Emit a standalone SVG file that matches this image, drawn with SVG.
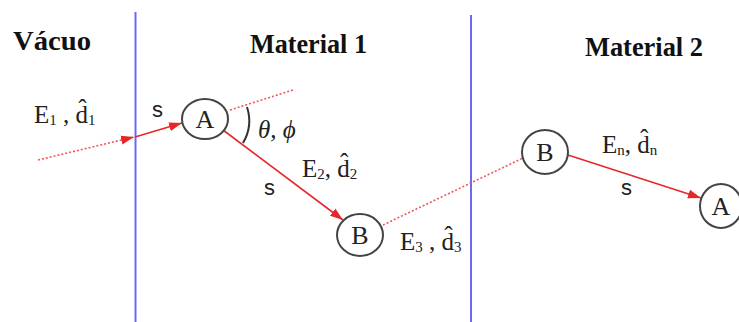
<svg xmlns="http://www.w3.org/2000/svg" width="739" height="322" viewBox="0 0 739 322">
<style>
.head{font-family:"Liberation Serif",serif;font-weight:bold;font-size:27px;fill:#111}
.lab{font-family:"Liberation Serif",serif;font-size:25px;fill:#222}
.sub{font-size:15px}
.s{font-family:"Liberation Sans",sans-serif;font-size:22px;fill:#222}
.node ellipse{fill:#fff;stroke:#444;stroke-width:2}
.node text{font-family:"Liberation Serif",serif;font-size:26px;fill:#222;text-anchor:middle}
.wall{stroke:#6a6aee;stroke-width:2}
.ray{stroke:#e8262a;stroke-width:1.6;fill:none}
.dot{stroke:#f0555a;stroke-width:1.6;stroke-dasharray:2 2;fill:none}
</style>
<defs>
<marker id="ah" markerUnits="userSpaceOnUse" markerWidth="14" markerHeight="10" refX="13" refY="5" orient="auto">
<path d="M0,0.5 L13,5 L0,9.5 Z" fill="#e8262a"/>
</marker>
</defs>
<rect width="739" height="322" fill="#fff"/>
<g id="walls">
<line class="wall" x1="135.5" y1="12" x2="135.5" y2="322"/>
<line class="wall" x1="471" y1="15" x2="471" y2="322"/>
</g>
<g id="headings">
<text class="head" x="13" y="50" textLength="78" lengthAdjust="spacingAndGlyphs">Vácuo</text>
<text class="head" x="250" y="53" textLength="117" lengthAdjust="spacingAndGlyphs">Material 1</text>
<text class="head" x="585" y="56" textLength="118" lengthAdjust="spacingAndGlyphs">Material 2</text>
</g>
<g id="connectors">
<line class="dot" x1="38" y1="160" x2="134" y2="137" marker-end="url(#ah)"/>
<line class="ray" x1="135" y1="137" x2="182" y2="123" marker-end="url(#ah)"/>
<line class="dot" x1="230" y1="110" x2="293" y2="90"/>
<line class="ray" x1="223" y1="130" x2="343" y2="220" marker-end="url(#ah)"/>
<line class="dot" x1="383" y1="225" x2="523" y2="158"/>
<line class="ray" x1="568" y1="155" x2="701" y2="198" marker-end="url(#ah)"/>
<path d="M247,107 A44,44 0 0 1 243,143" fill="none" stroke="#333" stroke-width="2"/>
</g>
<g id="nodeA1" class="node"><ellipse cx="205" cy="119" rx="23" ry="20"/><text x="205" y="128">A</text></g>
<g id="nodeB1" class="node"><ellipse cx="360" cy="235" rx="23" ry="21"/><text x="360" y="244">B</text></g>
<g id="nodeB2" class="node"><ellipse cx="545" cy="152" rx="23" ry="22"/><text x="545" y="161">B</text></g>
<g id="nodeA2" class="node"><ellipse cx="721" cy="206" rx="21" ry="22"/><text x="721" y="215">A</text></g>
<g id="labels">
<text class="lab" x="34" y="123">E<tspan class="sub" dy="2">1</tspan><tspan dy="-2"> , d̂</tspan><tspan class="sub" dy="2">1</tspan></text>
<text class="lab" x="302" y="177">E<tspan class="sub" dy="2">2</tspan><tspan dy="-2">, d̂</tspan><tspan class="sub" dy="2">2</tspan></text>
<text class="lab" x="400" y="250">E<tspan class="sub" dy="2">3</tspan><tspan dy="-2"> , d̂</tspan><tspan class="sub" dy="2">3</tspan></text>
<text class="lab" x="602" y="153">E<tspan class="sub" dy="2">n</tspan><tspan dy="-2">, d̂</tspan><tspan class="sub" dy="2">n</tspan></text>
<text class="lab" x="258" y="138" font-style="italic">θ, ϕ</text>
<text class="s" x="152" y="117">s</text>
<text class="s" x="264" y="195">s</text>
<text class="s" x="621" y="195">s</text>
</g>
</svg>
